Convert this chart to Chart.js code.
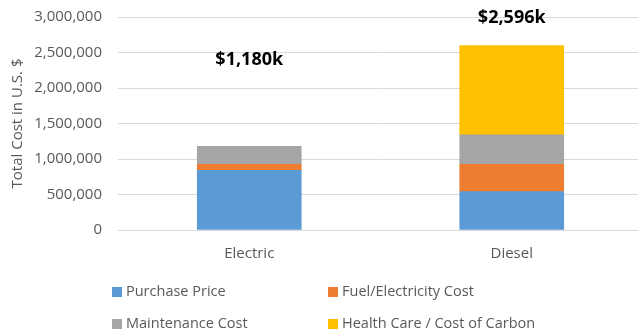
<!DOCTYPE html>
<html lang="en">

<head>
    <meta charset="UTF-8">
    <title>Total Cost - Electric vs Diesel</title>
    <script src="https://cdn.jsdelivr.net/npm/chart.js@4.4.0/dist/chart.umd.min.js"></script>
    <style>
        html, body {
            margin: 0;
            padding: 0;
            background: #fff;
            overflow: hidden;
        }
        #wrap {
            width: 638px;
            height: 336px;
            overflow: hidden;
        }
    </style>
</head>

<body>
    <div id="wrap">
        <canvas id="costChart" width="643" height="336"></canvas>
    </div>

    <script>
        const categories = ['Electric', 'Diesel'];
        const purchasePrice = [840000, 540000];
        const fuelCost = [85000, 385000];
        const maintenanceCost = [255000, 415000];
        const healthCarbonCost = [0, 1256000];
        const yTicks = [0, 500000, 1000000, 1500000, 2000000, 2500000, 3000000];

        const FONT = '"Open Sans", "DejaVu Sans", sans-serif';
        const GREY = '#595959';

        // totals printed above each bar, e.g. $1,180k
        const totalsPlugin = {
            id: 'totals',
            afterDatasetsDraw(chart, args, opts) {
                const ctx = chart.ctx;
                const y = chart.scales.y;
                const meta = chart.getDatasetMeta(0);
                ctx.save();
                ctx.font = 'bold 18px ' + FONT;
                ctx.fillStyle = '#000';
                ctx.textAlign = 'center';
                ctx.textBaseline = 'middle';
                categories.forEach((c, i) => {
                    let total = 0;
                    chart.data.datasets.forEach(ds => total += ds.data[i]);
                    const text = '$' + Math.round(total / 1000).toLocaleString('en-US') + 'k';
                    ctx.fillText(text, meta.data[i].x, y.getPixelForValue(opts.at[i]));
                });
                ctx.restore();
            }
        };

        // two-column legend under the axis
        const legendPlugin = {
            id: 'gridLegend',
            afterDraw(chart, args, opts) {
                const ctx = chart.ctx;
                ctx.save();
                ctx.font = '14.5px ' + FONT;
                ctx.textBaseline = 'middle';
                chart.data.datasets.forEach((ds, i) => {
                    const col = i % 2, row = Math.floor(i / 2);
                    const x = opts.cols[col], y = opts.rows[row];
                    ctx.fillStyle = ds.backgroundColor;
                    ctx.fillRect(x, y - 5, 10, 10);
                    ctx.fillStyle = GREY;
                    ctx.fillText(ds.label, x + 14, y);
                });
                ctx.restore();
            }
        };

        new Chart(document.getElementById('costChart'), {
            type: 'bar',
            data: {
                labels: categories,
                datasets: [
                    { label: 'Purchase Price', data: purchasePrice, backgroundColor: '#5B9BD5' },
                    { label: 'Fuel/Electricity Cost', data: fuelCost, backgroundColor: '#ED7D31' },
                    { label: 'Maintenance Cost', data: maintenanceCost, backgroundColor: '#A5A5A5' },
                    { label: 'Health Care / Cost of Carbon', data: healthCarbonCost, backgroundColor: '#FFC000' }
                ]
            },
            options: {
                responsive: false,
                animation: false,
                barThickness: 104,
                layout: { padding: { top: 17, left: 0, right: 0, bottom: 0 } },
                plugins: {
                    legend: { display: false },
                    tooltip: { enabled: false },
                    totals: { at: [2390000, 2990000] },
                    gridLegend: { cols: [112, 328], rows: [292, 324] }
                },
                scales: {
                    x: {
                        stacked: true,
                        grid: { display: false },
                        border: { display: false },
                        ticks: { color: GREY, font: { family: FONT, size: 15 }, padding: 7 },
                        afterFit(scale) { scale.height = 106; }
                    },
                    y: {
                        stacked: true,
                        min: 0,
                        max: 3000000,
                        afterBuildTicks(scale) { scale.ticks = yTicks.map(v => ({ value: v })); },
                        afterFit(scale) {
                            scale.width = 118;
                            scale.paddingTop = 0;
                            scale.paddingBottom = 0;
                        },
                        grid: { color: '#D9D9D9', drawTicks: false },
                        border: { display: false },
                        ticks: {
                            color: GREY,
                            font: { family: FONT, size: 15 },
                            padding: 16,
                            callback: v => v.toLocaleString('en-US')
                        },
                        title: {
                            display: true,
                            text: 'Total Cost in U.S. $',
                            color: GREY,
                            font: { family: FONT, size: 15 },
                            padding: { top: 9, bottom: 0 }
                        }
                    }
                }
            },
            plugins: [totalsPlugin, legendPlugin]
        });
    </script>
</body>

</html>
